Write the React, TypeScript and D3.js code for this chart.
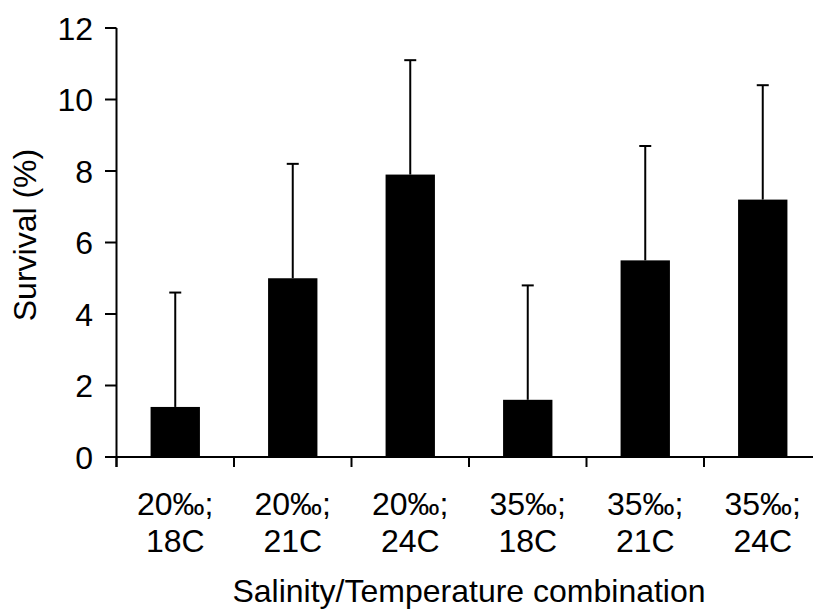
import React from "react";
import * as d3 from "d3";

const categoriesLine1 = ["20‰;", "20‰;", "20‰;", "35‰;", "35‰;", "35‰;"];
const categoriesLine2 = ["18C", "21C", "24C", "18C", "21C", "24C"];
const meanSurvival = [1.4, 5.0, 7.9, 1.6, 5.5, 7.2];
const upperError = [4.6, 8.2, 11.1, 4.8, 8.7, 10.4];
const yTicks = [0, 2, 4, 6, 8, 10, 12];
const yLabel = "Survival (%)";
const xLabel = "Salinity/Temperature combination";

const W = 813;
const H = 610;
const FONT = "'Liberation Sans', Arial, Helvetica, sans-serif";

export default function App() {
  const keys = categoriesLine2.map((c, i) => `${i}`);
  const x = d3.scaleBand<string>().domain(keys).range([116.5, 821.5]).paddingInner(0).paddingOuter(0);
  const y = d3.scaleLinear().domain([0, 12]).range([457, 28]);
  const barW = x.bandwidth() * 0.42;
  const capW = 12;
  const tickEdges = d3.range(keys.length + 1).map((i) => x.range()[0] + i * x.bandwidth());

  return (
    <svg width={W} height={H} style={{ position: "absolute", left: 0, top: 0, background: "#fff" }} fontFamily={FONT}>
      <rect x={0} y={0} width={W} height={H} fill="#fff" />
      {/* bars */}
      {meanSurvival.map((v, i) => {
        const cx = (x(keys[i]) as number) + x.bandwidth() / 2;
        return (
          <g key={i}>
            <line x1={cx} x2={cx} y1={y(v)} y2={y(upperError[i])} stroke="#000" strokeWidth={2} />
            <line x1={cx - capW / 2} x2={cx + capW / 2} y1={y(upperError[i])} y2={y(upperError[i])} stroke="#000" strokeWidth={2} />
            <rect x={cx - barW / 2} y={y(v)} width={barW} height={y(0) - y(v)} fill="#000" />
          </g>
        );
      })}
      {/* y axis */}
      <line x1={116.5} x2={116.5} y1={y(12)} y2={y(0) + 10} stroke="#000" strokeWidth={2} />
      {yTicks.map((t) => (
        <g key={t}>
          <line x1={105} x2={116.5} y1={y(t)} y2={y(t)} stroke="#000" strokeWidth={2} />
          <text x={93} y={y(t)} dy="0.36em" textAnchor="end" fontSize={32} fill="#000">
            {t}
          </text>
        </g>
      ))}
      {/* x axis */}
      <line x1={116.5} x2={821.5} y1={y(0)} y2={y(0)} stroke="#000" strokeWidth={2} />
      {tickEdges.map((tx, i) => (
        <line key={i} x1={tx} x2={tx} y1={y(0)} y2={y(0) + 10} stroke="#000" strokeWidth={2} />
      ))}
      {keys.map((k, i) => {
        const cx = (x(k) as number) + x.bandwidth() / 2;
        return (
          <text key={k} x={cx} textAnchor="middle" fontSize={32} fill="#000">
            <tspan x={cx} y={515}>{categoriesLine1[i]}</tspan>
            <tspan x={cx} y={552}>{categoriesLine2[i]}</tspan>
          </text>
        );
      })}
      <text x={469} y={602} textAnchor="middle" fontSize={32} fill="#000">
        {xLabel}
      </text>
      <text transform={`translate(36,235) rotate(-90)`} textAnchor="middle" fontSize={32} fill="#000">
        {yLabel}
      </text>
    </svg>
  );
}
